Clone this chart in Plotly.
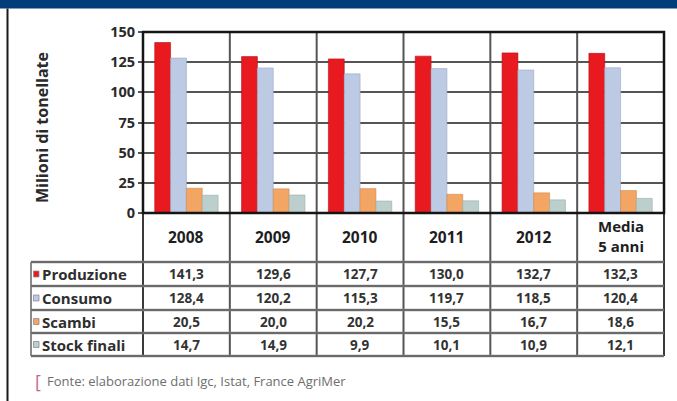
import plotly.graph_objects as go

# --- data ---------------------------------------------------------------
categories = ["2008", "2009", "2010", "2011", "2012", "Media<br>5 anni"]
series_names = ["Produzione", "Consumo", "Scambi", "Stock finali"]
produzione = [141.3, 129.6, 127.7, 130.0, 132.7, 132.3]
consumo = [128.4, 120.2, 115.3, 119.7, 118.5, 120.4]
scambi = [20.5, 20.0, 20.2, 15.5, 16.7, 18.6]
stock_finali = [14.7, 14.9, 9.9, 10.1, 10.9, 12.1]
y_ticks = [0, 25, 50, 75, 100, 125, 150]
y_title = "Milioni di tonellate"
source_note = "Fonte: elaborazione dati Igc, Istat, France AgriMer"

series_values = [produzione, consumo, scambi, stock_finali]
colors = ["#e8191f", "#bccbe3", "#f3a564", "#bccfcd"]
outline = ["#b01015", "#9aaac4", "#d08848", "#98acaa"]

# --- geometry (pixels) --------------------------------------------------
W, H = 677, 401
L, R, T, B = 143, 664, 32, 213
TABLE_LEFT = 31
ROW_LINES = [262, 286, 310, 333, 356]
HEADER_MID = 237
ROW_MIDS = [274, 298, 321.5, 344.5]


def py(p):
    """pixel row -> paper y"""
    return (B - p) / (B - T)


def px(p):
    """pixel column -> paper x"""
    return (p - L) / (R - L)


FONT = "Open Sans"
GRID = "#555555"

fig = go.Figure()
x_idx = list(range(len(categories)))
for name, vals, c, oc in zip(series_names, series_values, colors, outline):
    fig.add_trace(go.Bar(
        x=x_idx, y=vals, name=name,
        marker=dict(color=c, line=dict(color=oc, width=0.6)),
        showlegend=False,
    ))

shapes = []
annotations = []

# header band and left rule
shapes.append(dict(type="rect", xref="paper", yref="paper",
                   x0=px(0), x1=px(W), y0=py(0), y1=py(8.5),
                   fillcolor="#013e79", line=dict(width=0), layer="above"))
shapes.append(dict(type="line", xref="paper", yref="paper",
                   x0=px(7.5), x1=px(7.5), y0=py(8.5), y1=py(H),
                   line=dict(color="#1a1a1a", width=2)))

# vertical separators between categories, running through the table
for i in range(1, len(categories)):
    shapes.append(dict(type="line", xref="x", yref="paper",
                       x0=i - 0.5, x1=i - 0.5, y0=1, y1=py(ROW_LINES[-1]),
                       line=dict(color=GRID, width=2)))
# table outer verticals
shapes.append(dict(type="line", xref="paper", yref="paper",
                   x0=0, x1=0, y0=0, y1=py(ROW_LINES[-1]),
                   line=dict(color="#3a3a3a", width=2)))
shapes.append(dict(type="line", xref="paper", yref="paper",
                   x0=1, x1=1, y0=0, y1=py(ROW_LINES[-1]),
                   line=dict(color="#3a3a3a", width=2)))
shapes.append(dict(type="line", xref="paper", yref="paper",
                   x0=px(TABLE_LEFT), x1=px(TABLE_LEFT),
                   y0=py(ROW_LINES[0]), y1=py(ROW_LINES[-1]),
                   line=dict(color="#8a8a8a", width=2)))
# table horizontal rules
for yl in ROW_LINES:
    shapes.append(dict(type="line", xref="paper", yref="paper",
                       x0=px(TABLE_LEFT), x1=1, y0=py(yl), y1=py(yl),
                       line=dict(color="#8a8a8a", width=2.5)))
    shapes.append(dict(type="line", xref="paper", yref="paper",
                       x0=px(TABLE_LEFT), x1=1, y0=py(yl), y1=py(yl),
                       line=dict(color="#4a4a4a", width=1)))

# plot frame
shapes.append(dict(type="rect", xref="paper", yref="paper",
                   x0=0, x1=1, y0=0, y1=1,
                   line=dict(color="#151515", width=2.5), layer="above"))

# column headers
for i, cat in enumerate(categories):
    two_lines = "<br>" in cat
    annotations.append(dict(
        x=i, xref="x", y=py(HEADER_MID - (1 if two_lines else 0)), yref="paper",
        text=f"<b>{cat}</b>", showarrow=False,
        font=dict(family=FONT, size=15.5 if not two_lines else 15, color="#1e1e1e"),
        align="center", yanchor="middle", xanchor="center",
    ))

# table body
for r, (name, vals, c) in enumerate(zip(series_names, series_values, colors)):
    ymid = ROW_MIDS[r]
    shapes.append(dict(type="rect", xref="paper", yref="paper",
                       x0=px(33.5), x1=px(39), y0=py(ymid + 3), y1=py(ymid - 3),
                       fillcolor=c, line=dict(color="#8a8a9a", width=0.8)))
    annotations.append(dict(
        x=px(40), xref="paper", y=py(ymid), yref="paper",
        text=f"<b>{name}</b>", showarrow=False,
        font=dict(family=FONT, size=15, color="#2e2e2e"),
        xanchor="left", yanchor="middle",
    ))
    for i, v in enumerate(vals):
        annotations.append(dict(
            x=i, xref="x", y=py(ymid), yref="paper",
            text="<b>" + f"{v:.1f}".replace(".", ",") + "</b>", showarrow=False,
            font=dict(family=FONT, size=13.5, color="#333333"),
            xanchor="center", yanchor="middle",
        ))

# axis title
annotations.append(dict(
    x=px(42), xref="paper", y=py(128), yref="paper",
    text=f"<b>{y_title}</b>", showarrow=False, textangle=-90,
    font=dict(family=FONT, size=16, color="#2a2a2a"),
    xanchor="center", yanchor="middle",
))

# source note
annotations.append(dict(
    x=px(33), xref="paper", y=py(381), yref="paper",
    text="[", showarrow=False,
    font=dict(family=FONT, size=18, color="#c46a86"),
    xanchor="left", yanchor="middle",
))
annotations.append(dict(
    x=px(45), xref="paper", y=py(381), yref="paper",
    text=source_note, showarrow=False,
    font=dict(family=FONT, size=13, color="#6e6e6e"),
    xanchor="left", yanchor="middle",
))

fig.update_layout(
    width=W, height=H,
    margin=dict(l=L, r=W - R, t=T, b=H - B, pad=0),
    paper_bgcolor="white", plot_bgcolor="white",
    barmode="group", bargap=0.27, bargroupgap=0,
    shapes=shapes, annotations=annotations,
    xaxis=dict(range=[-0.5, len(categories) - 0.5], showticklabels=False,
               showgrid=False, zeroline=False, showline=False, fixedrange=True),
    yaxis=dict(range=[0, 150], tickvals=y_ticks,
               ticktext=[f"<b>{t}</b>" for t in y_ticks],
               tickfont=dict(family=FONT, size=14.5, color="#2a2a2a"),
               ticks="outside", ticklen=4, tickcolor=GRID, tickwidth=2,
               showgrid=True, gridcolor=GRID, gridwidth=2,
               zeroline=False, showline=False, fixedrange=True),
)

fig.write_html("out.html")
